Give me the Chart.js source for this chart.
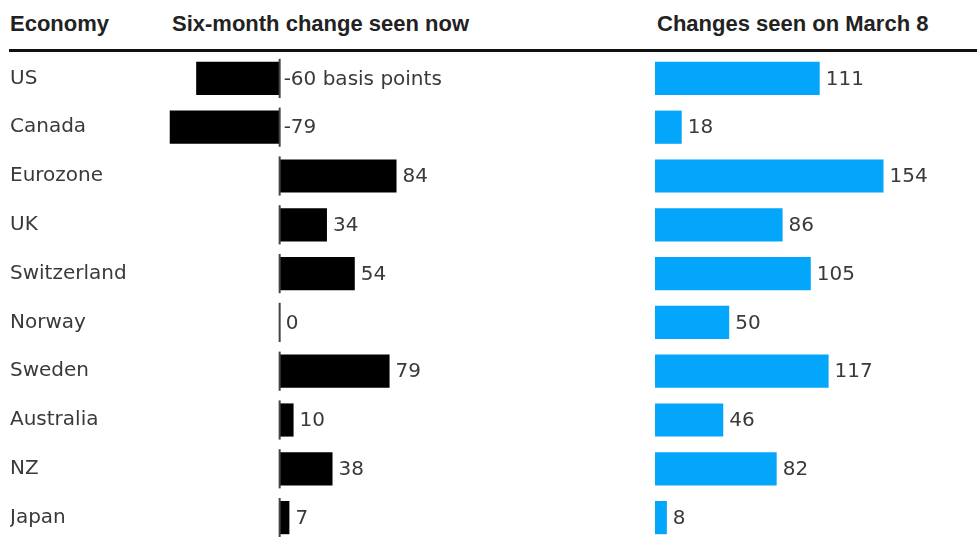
<!DOCTYPE html>
<html>
<head>
<meta charset="utf-8">
<script src="https://cdn.jsdelivr.net/npm/chart.js@4"></script>
<style>
  html, body { margin: 0; padding: 0; background: #fff; overflow: hidden; }
  #wrap { position: relative; width: 977px; height: 537px; overflow: hidden; }
  .head { position: absolute; top: 11px; font: bold 22px "Liberation Sans", Arial, sans-serif; color: #222; white-space: nowrap; }
  #rule { position: absolute; left: 9px; right: 0; top: 49px; height: 3px; background: #111; }
  canvas { position: absolute; top: 54px; }
</style>
</head>
<body>
<div id="wrap">
  <div class="head" style="left:10px">Economy</div>
  <div class="head" style="left:172px">Six-month change seen now</div>
  <div class="head" style="left:657px">Changes seen on March 8</div>
  <div id="rule"></div>
  <canvas id="left" width="640" height="488" style="left:0"></canvas>
  <canvas id="right" width="337" height="488" style="left:640px"></canvas>
</div>
<script>
const economies = ["US", "Canada", "Eurozone", "UK", "Switzerland", "Norway", "Sweden", "Australia", "NZ", "Japan"];
const changeNow = [-60, -79, 84, 34, 54, 0, 79, 10, 38, 7];
const changeMarch8 = [111, 18, 154, 86, 105, 50, 117, 46, 82, 8];

const labelFont = '20px "DejaVu Sans", sans-serif';
const textColor = "#3a3a3a";

// draws the numbers after each bar, plus the little zero marker on the left panel
const valueLabels = {
  id: "valueLabels",
  afterDatasetsDraw(chart, args, opts) {
    const ctx = chart.ctx;
    const meta = chart.getDatasetMeta(0);
    const data = chart.data.datasets[0].data;
    const zeroX = chart.scales.x.getPixelForValue(0);
    ctx.save();
    meta.data.forEach((bar, i) => {
      const v = data[i];
      if (opts.zeroLine) {
        ctx.fillStyle = "#444";
        ctx.fillRect(zeroX - 1, bar.y - bar.height / 2 - 3, 2, bar.height + 6);
      }
      let text = String(v);
      if (i === 0 && opts.unit) text += " basis points";
      const x = v < 0 ? zeroX + 4 : Math.max(bar.x, zeroX) + 6;
      ctx.font = labelFont;
      ctx.fillStyle = textColor;
      ctx.textAlign = "left";
      ctx.textBaseline = "middle";
      ctx.fillText(text, x, bar.y + 1);
    });
    ctx.restore();
  },
};

Chart.defaults.animation = false;
Chart.defaults.devicePixelRatio = 1;

new Chart(document.getElementById("left"), {
  type: "bar",
  data: {
    labels: economies,
    datasets: [{ data: changeNow, backgroundColor: "#000", categoryPercentage: 1, barPercentage: 0.68 }],
  },
  options: {
    indexAxis: "y",
    responsive: false,
    layout: { padding: { left: 10, right: 0, top: 0, bottom: 0 } },
    plugins: { legend: { display: false }, tooltip: { enabled: false }, valueLabels: { zeroLine: true, unit: true } },
    scales: {
      x: { display: false, min: -86, max: 259 },
      y: {
        grid: { display: false },
        border: { display: false },
        ticks: { crossAlign: "far", padding: 0, color: textColor, font: { family: "DejaVu Sans", size: 20 } },
        afterFit(scale) {
          scale.width = 150;
          scale.paddingTop = 0;
          scale.paddingBottom = 0;
        },
      },
    },
  },
  plugins: [valueLabels],
});

new Chart(document.getElementById("right"), {
  type: "bar",
  data: {
    labels: economies,
    datasets: [{ data: changeMarch8, backgroundColor: "#03a6fa", categoryPercentage: 1, barPercentage: 0.68 }],
  },
  options: {
    indexAxis: "y",
    responsive: false,
    layout: { padding: { left: 15, right: 0, top: 0, bottom: 0 } },
    plugins: { legend: { display: false }, tooltip: { enabled: false }, valueLabels: {} },
    scales: {
      x: { display: false, min: 0, max: 217 },
      y: { display: false },
    },
  },
  plugins: [valueLabels],
});
</script>
</body>
</html>
